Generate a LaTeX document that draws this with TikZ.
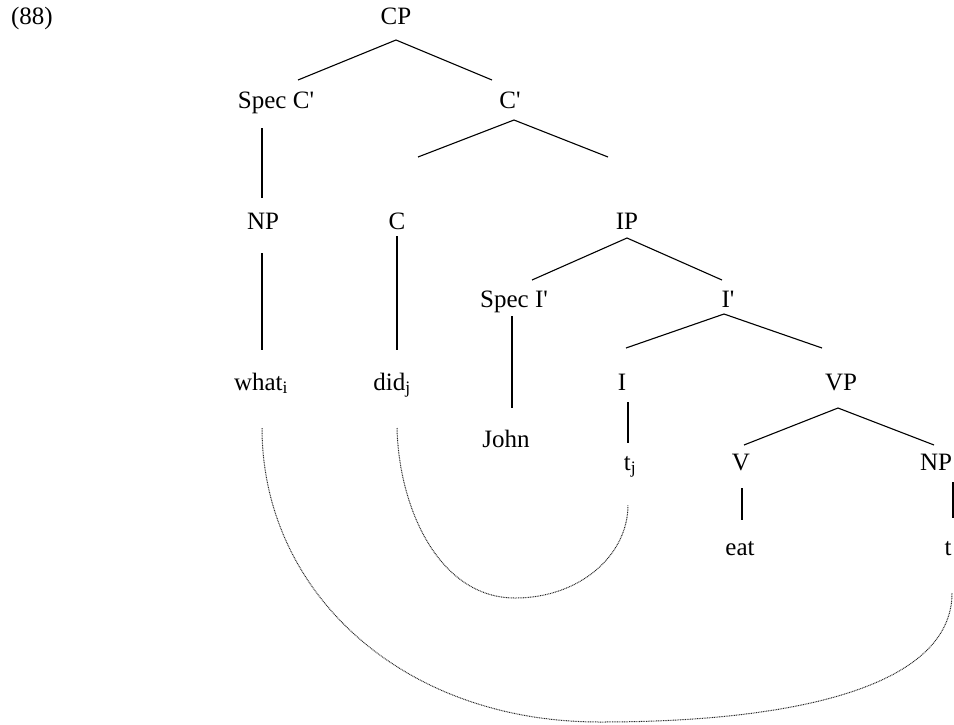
\documentclass[tikz,border=0pt]{standalone}
\usepackage{fontspec}
\setmainfont{Liberation Serif}[Ligatures=TeXOff]
\tikzset{
  lbl/.style={font=\fontsize{25}{30}\selectfont, inner sep=0pt, anchor=base},
  branch/.style={line width=1.1pt, black},
  trace/.style={line width=1pt, black!85, dash pattern=on 0.9pt off 0.8pt}
}
\begin{document}
\begin{tikzpicture}[x=1pt,y=1pt]
\useasboundingbox (0,0) rectangle (954,-724);
% nodes
\node[lbl] (ex)   at (32,-24)  {(88)};
\node[lbl] (CP)   at (396,-24) {CP};
\node[lbl] (SpecC) at (276,-108) {Spec C'};
\node[lbl] (Cbar) at (510,-108) {C'};
\node[lbl] (NPa)  at (263,-229) {NP};
\node[lbl] (C)    at (397,-229) {C};
\node[lbl] (IP)   at (627,-229) {IP};
\node[lbl] (SpecI) at (514,-307) {Spec I'};
\node[lbl] (Ibar) at (728,-307) {I'};
\node[lbl] (what) at (261,-390) {what\textsubscript{i}};
\node[lbl] (did)  at (392,-390) {did\textsubscript{j}};
\node[lbl] (I)    at (622,-390) {I};
\node[lbl] (VP)   at (841,-390) {VP};
\node[lbl] (John) at (506,-447) {John};
\node[lbl] (tj)   at (630,-470) {t\textsubscript{j}};
\node[lbl] (V)    at (741,-470) {V};
\node[lbl] (NPb)  at (936,-470) {NP};
\node[lbl] (eat)  at (740,-555) {eat};
\node[lbl] (t)    at (948,-555) {t};
\coordinate (lowA) at (515,-598);
\coordinate (lowB) at (600,-722);
% branches
\draw[branch] ([xshift=22pt,yshift=28pt]SpecC.base) -- ([yshift=-16pt]CP.base) -- ([xshift=-18pt,yshift=28pt]Cbar.base);
\draw[branch] ([xshift=21pt,yshift=72pt]C.base) -- ([xshift=4pt,yshift=-12pt]Cbar.base) -- ([xshift=-19pt,yshift=72pt]IP.base);
\draw[branch] ([xshift=-14pt,yshift=-20pt]SpecC.base) -- ([xshift=-1pt,yshift=31pt]NPa.base);
\draw[branch] ([xshift=-1pt,yshift=-24pt]NPa.base) -- ([xshift=1pt,yshift=40pt]what.base);
\draw[branch] ([yshift=-7pt]C.base) -- ([xshift=5pt,yshift=40pt]did.base);
\draw[branch] ([xshift=18pt,yshift=27pt]SpecI.base) -- ([yshift=-9pt]IP.base) -- ([xshift=-6pt,yshift=27pt]Ibar.base);
\draw[branch] ([xshift=-2pt,yshift=-9pt]SpecI.base) -- ([xshift=6pt,yshift=39pt]John.base);
\draw[branch] ([xshift=4pt,yshift=42pt]I.base) -- ([xshift=-4pt,yshift=-7pt]Ibar.base) -- ([xshift=-19pt,yshift=42pt]VP.base);
\draw[branch] ([xshift=6pt,yshift=-12pt]I.base) -- ([xshift=-2pt,yshift=27pt]tj.base);
\draw[branch] ([xshift=3pt,yshift=25pt]V.base) -- ([xshift=-3pt,yshift=-18pt]VP.base) -- ([xshift=-2pt,yshift=25pt]NPb.base);
\draw[branch] ([xshift=1pt,yshift=-18pt]V.base) -- ([xshift=2pt,yshift=35pt]eat.base);
\draw[branch] ([xshift=17pt,yshift=-12pt]NPb.base) -- ([xshift=5pt,yshift=37pt]t.base);
% traces
\draw[trace] ([xshift=5pt,yshift=-38pt]did.base) .. controls (399,-510) and (440,-598) .. (lowA)
  .. controls (580,-598) and (628,-555) .. ([xshift=-2pt,yshift=-35pt]tj.base);
\draw[trace] ([xshift=1pt,yshift=-38pt]what.base) .. controls (262,-590) and (400,-722) .. (lowB)
  .. controls (800,-722) and (952,-685) .. ([xshift=4pt,yshift=-38pt]t.base);
\end{tikzpicture}
\end{document}
